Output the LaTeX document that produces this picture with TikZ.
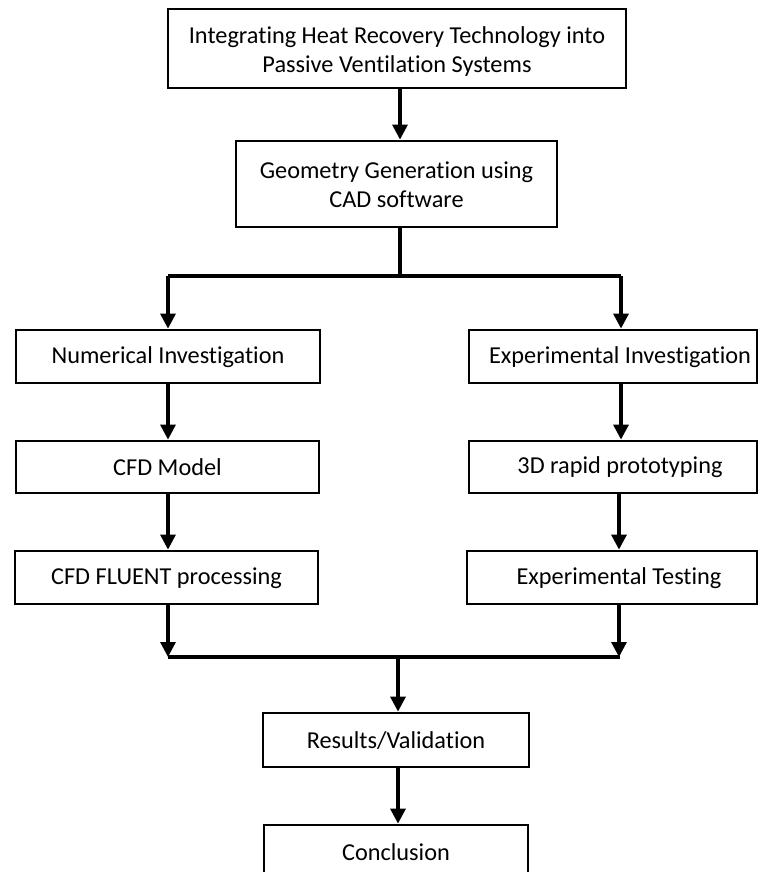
\documentclass[tikz,border=0pt]{standalone}
\usepackage{fontspec}
\setmainfont[Ligatures=NoCommon]{Carlito}
\usetikzlibrary{arrows.meta}
\begin{document}
\begin{tikzpicture}[x=1pt,y=-1pt,
  box/.style={draw=black, line width=2.8pt, fill=white, inner sep=0pt},
  lbl/.style={font=\fontsize{24.3}{29}\selectfont, align=center, inner sep=0pt},
  arr/.style={line width=3.2pt, -{Triangle[width=15pt,length=15pt]}},
  ln/.style={line width=3.2pt}]
\useasboundingbox (0,0) rectangle (762,872);
\clip (0,0) rectangle (762,872);
% boxes
\node[box, minimum width=458pt, minimum height=79pt] (top) at (397,48.5) {};
\node[lbl] (toptxt) at (397,52) {Integrating Heat Recovery Technology into\\Passive Ventilation Systems};
\node[box, minimum width=321pt, minimum height=86pt] (geo) at (396.5,184) {};
\node[lbl] (geotxt) at (396.5,184.5) {Geometry Generation using\\CAD software};
\node[box, minimum width=304pt, minimum height=53pt] (num) at (168,356.5) {};
\node[lbl] (numtxt) at (168,357) {Numerical Investigation};
\node[box, minimum width=288pt, minimum height=53pt] (exp) at (613,356.5) {};
\node[lbl] (exptxt) at (620,357) {Experimental Investigation};
\node[box, minimum width=303pt, minimum height=52pt] (cfd) at (167.5,467) {};
\node[lbl] (cfdtxt) at (167.5,467.5) {CFD Model};
\node[box, minimum width=288pt, minimum height=52pt] (proto) at (613,467) {};
\node[lbl] (prototxt) at (620,467.5) {3D rapid prototyping};
\node[box, minimum width=303pt, minimum height=53pt] (flu) at (166.5,577.5) {};
\node[lbl] (flutxt) at (166.5,578) {CFD FLUENT processing};
\node[box, minimum width=290pt, minimum height=53pt] (test) at (612,577.5) {};
\node[lbl] (testtxt) at (619,578) {Experimental Testing};
\node[box, minimum width=266pt, minimum height=54pt] (res) at (396,740) {};
\node[lbl] (restxt) at (396,740.5) {Results/Validation};
\node[box, minimum width=264pt, minimum height=70pt] (con) at (396,860) {};
\node[lbl] (contxt) at (396,852) {Conclusion};
% connectors
\coordinate (s) at (400,276);
\coordinate (sl) at (168,276);
\coordinate (sr) at (621,276);
\coordinate (m) at (398,657);
\coordinate (ml) at (168,657);
\coordinate (mr) at (620,657);
\draw[arr] (top.south -| 400,0) -- (geo.north -| 400,0);
\draw[ln] (geo.south -| 400,0) -- (s);
\draw[ln] (sl) -- (sr);
\draw[arr] (sl) -- (num.north -| sl);
\draw[arr] (sr) -- (exp.north -| sr);
\draw[arr] (num.south -| sl) -- (cfd.north -| sl);
\draw[arr] (exp.south -| sr) -- (proto.north -| sr);
\draw[arr] (cfd.south -| sl) -- (flu.north -| sl);
\draw[arr] (proto.south -| 619,0) -- (test.north -| 619,0);
\draw[arr] (flu.south -| ml) -- (ml);
\draw[arr] (test.south -| 619,0) -- (619,657);
\draw[ln] (ml) -- (mr);
\draw[arr] (m) -- (res.north -| m);
\draw[arr] (res.south -| m) -- (con.north -| m);
\end{tikzpicture}
\end{document}
